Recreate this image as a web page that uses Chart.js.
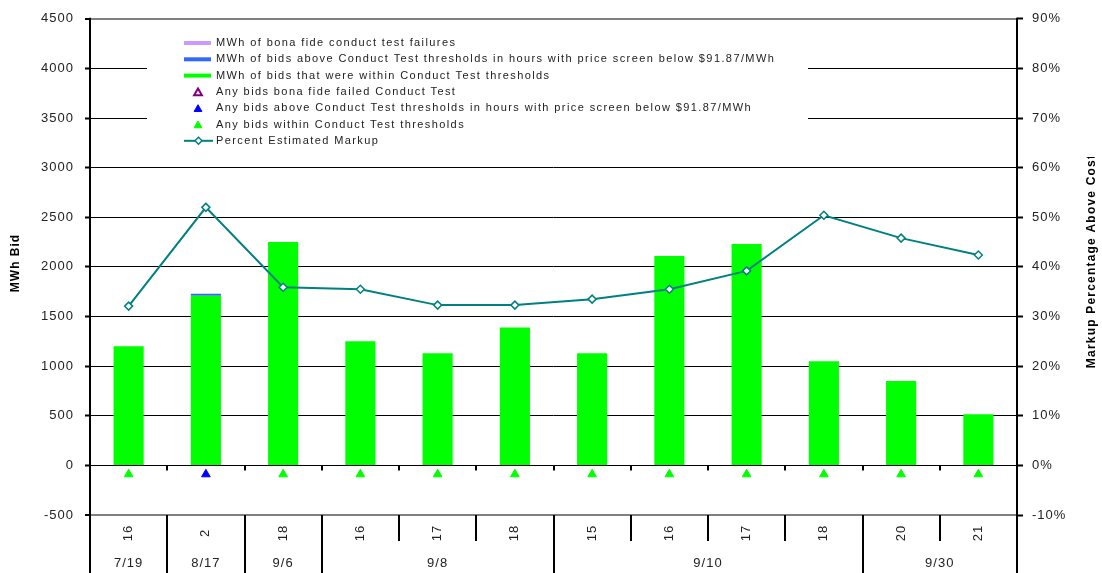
<!DOCTYPE html>
<html>
<head>
<meta charset="utf-8">
<title>MWh Bid and Markup</title>
<script src="https://cdn.jsdelivr.net/npm/chart.js@4.4.1/dist/chart.umd.min.js"></script>
<style>
  html, body { margin: 0; padding: 0; background: #fff; }
  canvas { display: block; }
</style>
</head>
<body>
<canvas id="bids" width="1102" height="573"></canvas>
<script>
// Hour and date of each bid interval
let hours = ['16', '2', '18', '16', '17', '18', '15', '16', '17', '18', '20', '21']
let dates = ['7/19', '8/17', '9/6', '9/8', '9/8', '9/8', '9/10', '9/10', '9/10', '9/10', '9/30', '9/30']

// MWh bid in each interval, split by conduct test outcome
let mwhWithin = [1200, 1710, 2250, 1250, 1130, 1390, 1130, 2110, 2230, 1050, 850, 515]
let mwhAbove = [0, 20, 0, 0, 0, 0, 0, 0, 0, 0, 0, 0]
let mwhFailed = [0, 0, 0, 0, 0, 0, 0, 0, 0, 0, 0, 0]

// 1 where any bid of that kind showed up in the interval
let anyWithin = [1, 0, 1, 1, 1, 1, 1, 1, 1, 1, 1, 1]
let anyAbove = [0, 1, 0, 0, 0, 0, 0, 0, 0, 0, 0, 0]
let anyFailed = [0, 0, 0, 0, 0, 0, 0, 0, 0, 0, 0, 0]

// Percent estimated markup above cost
let markup = [32.1, 52.0, 35.9, 35.5, 32.3, 32.3, 33.5, 35.5, 39.2, 50.4, 45.8, 42.4]

// Axis ranges
let mwhAxis = { min: -500, max: 4500, step: 500 }
let pctAxis = { min: -10, max: 90, step: 10 }

let FONT = '"Liberation Sans", Arial, sans-serif'
let ink = '#222'
let green = '#00ff00'
let blue = '#3366ff'
let lavender = '#cc99ff'
let teal = '#008080'

// indicator triangles sit just under the zero line
const MARKER_LEVEL = -90
let markerData = (flags) => flags.map((f) => f ? MARKER_LEVEL : null)

let barStyle = { stack: 'mwh', order: 3, barPercentage: 0.39, categoryPercentage: 1, borderWidth: 0 }
let triStyle = { type: 'line', order: 1, showLine: false, pointStyle: 'triangle', pointRadius: 5, pointHoverRadius: 5, pointBorderWidth: 1 }

// Legend drawn inside the plot, with its own white box
let legendOrder = [2, 1, 0, 3, 4, 5, 6]

let frame = {
    id: 'frame',
    beforeDraw(chart) {
        chart.ctx.letterSpacing = '1px'
    },
    afterDraw(chart) {
        let ctx = chart.ctx
        let x = chart.scales.x
        let y = chart.scales.y
        let area = chart.chartArea
        let H = chart.height
        ctx.save()

        // legend
        ctx.fillStyle = '#fff'
        ctx.fillRect(147, 31, 661, 123)
        ctx.font = '11px ' + FONT
        ctx.letterSpacing = '1.4px'
        ctx.textBaseline = 'middle'
        ctx.textAlign = 'left'
        legendOrder.forEach((di, row) => {
            let ds = chart.data.datasets[di]
            let ry = 43 + row * 16.3
            if (ds.type === 'line' && ds.showLine === false) {
                ctx.fillStyle = ds.pointBackgroundColor
                ctx.strokeStyle = ds.pointBorderColor
                ctx.lineWidth = ds.pointBorderWidth
                Chart.helpers.drawPoint(ctx, { pointStyle: 'triangle', radius: 4.5, rotation: 0, borderWidth: ds.pointBorderWidth }, 198, ry + 1)
            } else if (ds.type === 'line') {
                ctx.strokeStyle = ds.borderColor
                ctx.lineWidth = 2
                ctx.beginPath()
                ctx.moveTo(184, ry)
                ctx.lineTo(213, ry)
                ctx.stroke()
                ctx.fillStyle = ds.pointBackgroundColor
                ctx.strokeStyle = ds.pointBorderColor
                ctx.lineWidth = ds.pointBorderWidth
                Chart.helpers.drawPoint(ctx, { pointStyle: 'rectRot', radius: 3.5, rotation: 0, borderWidth: ds.pointBorderWidth }, 198.5, ry)
            } else {
                ctx.fillStyle = ds.backgroundColor
                ctx.fillRect(184, ry - 2, 27, 4)
            }
            ctx.fillStyle = ink
            ctx.fillText(ds.label, 216, ry)
        })

        // axis lines run down through the label rows
        ctx.strokeStyle = '#000'
        ctx.lineWidth = 2
        ctx.beginPath()
        ctx.moveTo(area.left, area.top - 1)
        ctx.lineTo(area.left, H)
        ctx.moveTo(area.right, area.top - 1)
        ctx.lineTo(area.right, H)
        ctx.stroke()

        // category ticks on the zero line and separators in the label rows
        let step = x.getPixelForValue(1) - x.getPixelForValue(0)
        let y0 = Math.round(y.getPixelForValue(0)) + 0.5
        ctx.lineWidth = 2
        ctx.beginPath()
        for (let i = 1; i < hours.length; i++) {
            let bx = Math.round(x.getPixelForValue(i) - step / 2)
            ctx.moveTo(bx, y0)
            ctx.lineTo(bx, y0 + 5)
            ctx.moveTo(bx, area.bottom)
            ctx.lineTo(bx, dates[i] === dates[i - 1] ? area.bottom + 26 : H)
        }
        ctx.stroke()

        // hour labels, rotated
        ctx.fillStyle = ink
        ctx.font = '13px ' + FONT
        ctx.letterSpacing = '1px'
        ctx.textAlign = 'center'
        ctx.textBaseline = 'middle'
        hours.forEach((h, i) => {
            ctx.save()
            ctx.translate(x.getPixelForValue(i), area.bottom + 18)
            ctx.rotate(-Math.PI / 2)
            ctx.fillText(h, 0, 0)
            ctx.restore()
        })

        // date labels under each run of hours
        let start = 0
        for (let i = 1; i <= dates.length; i++) {
            if (i === dates.length || dates[i] !== dates[start]) {
                let cx = (x.getPixelForValue(start) + x.getPixelForValue(i - 1)) / 2
                ctx.fillText(dates[start], cx, area.bottom + 48)
                start = i
            }
        }

        // axis titles
        ctx.font = 'bold 12px ' + FONT
        ctx.fillStyle = '#000'
        ctx.save()
        ctx.translate(16, 263)
        ctx.rotate(-Math.PI / 2)
        ctx.fillText('MWh Bid', 0, 0)
        ctx.restore()

        ctx.save()
        ctx.letterSpacing = '1.2px'
        ctx.beginPath()
        ctx.rect(1080, 157, 22, H - 157)
        ctx.clip()
        ctx.translate(1092, 261)
        ctx.rotate(-Math.PI / 2)
        ctx.fillText('Markup Percentage Above Cost', 0, 0)
        ctx.restore()

        ctx.restore()
    }
}

let bidChart = new Chart(document.getElementById('bids'), {
    type: 'bar',
    data: {
        labels: hours,
        datasets: [
            { label: 'MWh of bids that were within Conduct Test thresholds', data: mwhWithin, backgroundColor: green, ...barStyle },
            { label: 'MWh of bids above Conduct Test thresholds in hours with price screen below $91.87/MWh', data: mwhAbove, backgroundColor: blue, ...barStyle },
            { label: 'MWh of bona fide conduct test failures', data: mwhFailed, backgroundColor: lavender, ...barStyle },
            { label: 'Any bids bona fide failed Conduct Test', data: markerData(anyFailed), stack: 'm1', pointBackgroundColor: '#fff', pointBorderColor: '#800080', ...triStyle, pointBorderWidth: 2 },
            { label: 'Any bids above Conduct Test thresholds in hours with price screen below $91.87/MWh', data: markerData(anyAbove), stack: 'm2', pointBackgroundColor: '#0000ff', pointBorderColor: '#0000ff', ...triStyle },
            { label: 'Any bids within Conduct Test thresholds', data: markerData(anyWithin), stack: 'm3', pointBackgroundColor: green, pointBorderColor: green, ...triStyle },
            {
                type: 'line',
                label: 'Percent Estimated Markup',
                data: markup,
                yAxisID: 'y2',
                order: 0,
                borderColor: teal,
                borderWidth: 2,
                tension: 0,
                pointStyle: 'rectRot',
                pointRadius: 4,
                pointHoverRadius: 4,
                pointBackgroundColor: '#fff',
                pointBorderColor: teal,
                pointBorderWidth: 1.5,
            },
        ]
    },
    options: {
        responsive: false,
        animation: false,
        devicePixelRatio: 1,
        layout: { padding: { top: 13, bottom: 58 } },
        plugins: {
            legend: { display: false },
            tooltip: { enabled: false },
        },
        scales: {
            x: { display: false },
            y: {
                position: 'left',
                stacked: true,
                min: mwhAxis.min,
                max: mwhAxis.max,
                afterFit: (s) => { s.width = 90 },
                border: { display: false },
                grid: {
                    color: (c) => (c.tick.value === mwhAxis.min || c.tick.value === mwhAxis.max) ? '#808080' : '#000',
                    lineWidth: (c) => (c.tick.value === mwhAxis.min || c.tick.value === mwhAxis.max) ? 2 : 1,
                    tickColor: '#000',
                    tickLength: 5,
                    tickWidth: 2,
                },
                ticks: {
                    stepSize: mwhAxis.step,
                    padding: 11,
                    color: ink,
                    font: { family: FONT, size: 13 },
                    callback: (v) => String(v),
                },
            },
            y2: {
                position: 'right',
                min: pctAxis.min,
                max: pctAxis.max,
                afterFit: (s) => { s.width = 85 },
                border: { display: false },
                grid: {
                    drawOnChartArea: false,
                    tickColor: '#000',
                    tickLength: 6,
                    tickWidth: 2,
                },
                ticks: {
                    stepSize: pctAxis.step,
                    padding: 9,
                    color: ink,
                    font: { family: FONT, size: 13 },
                    callback: (v) => v + '%',
                },
            },
        }
    },
    plugins: [frame]
})
</script>
</body>
</html>
